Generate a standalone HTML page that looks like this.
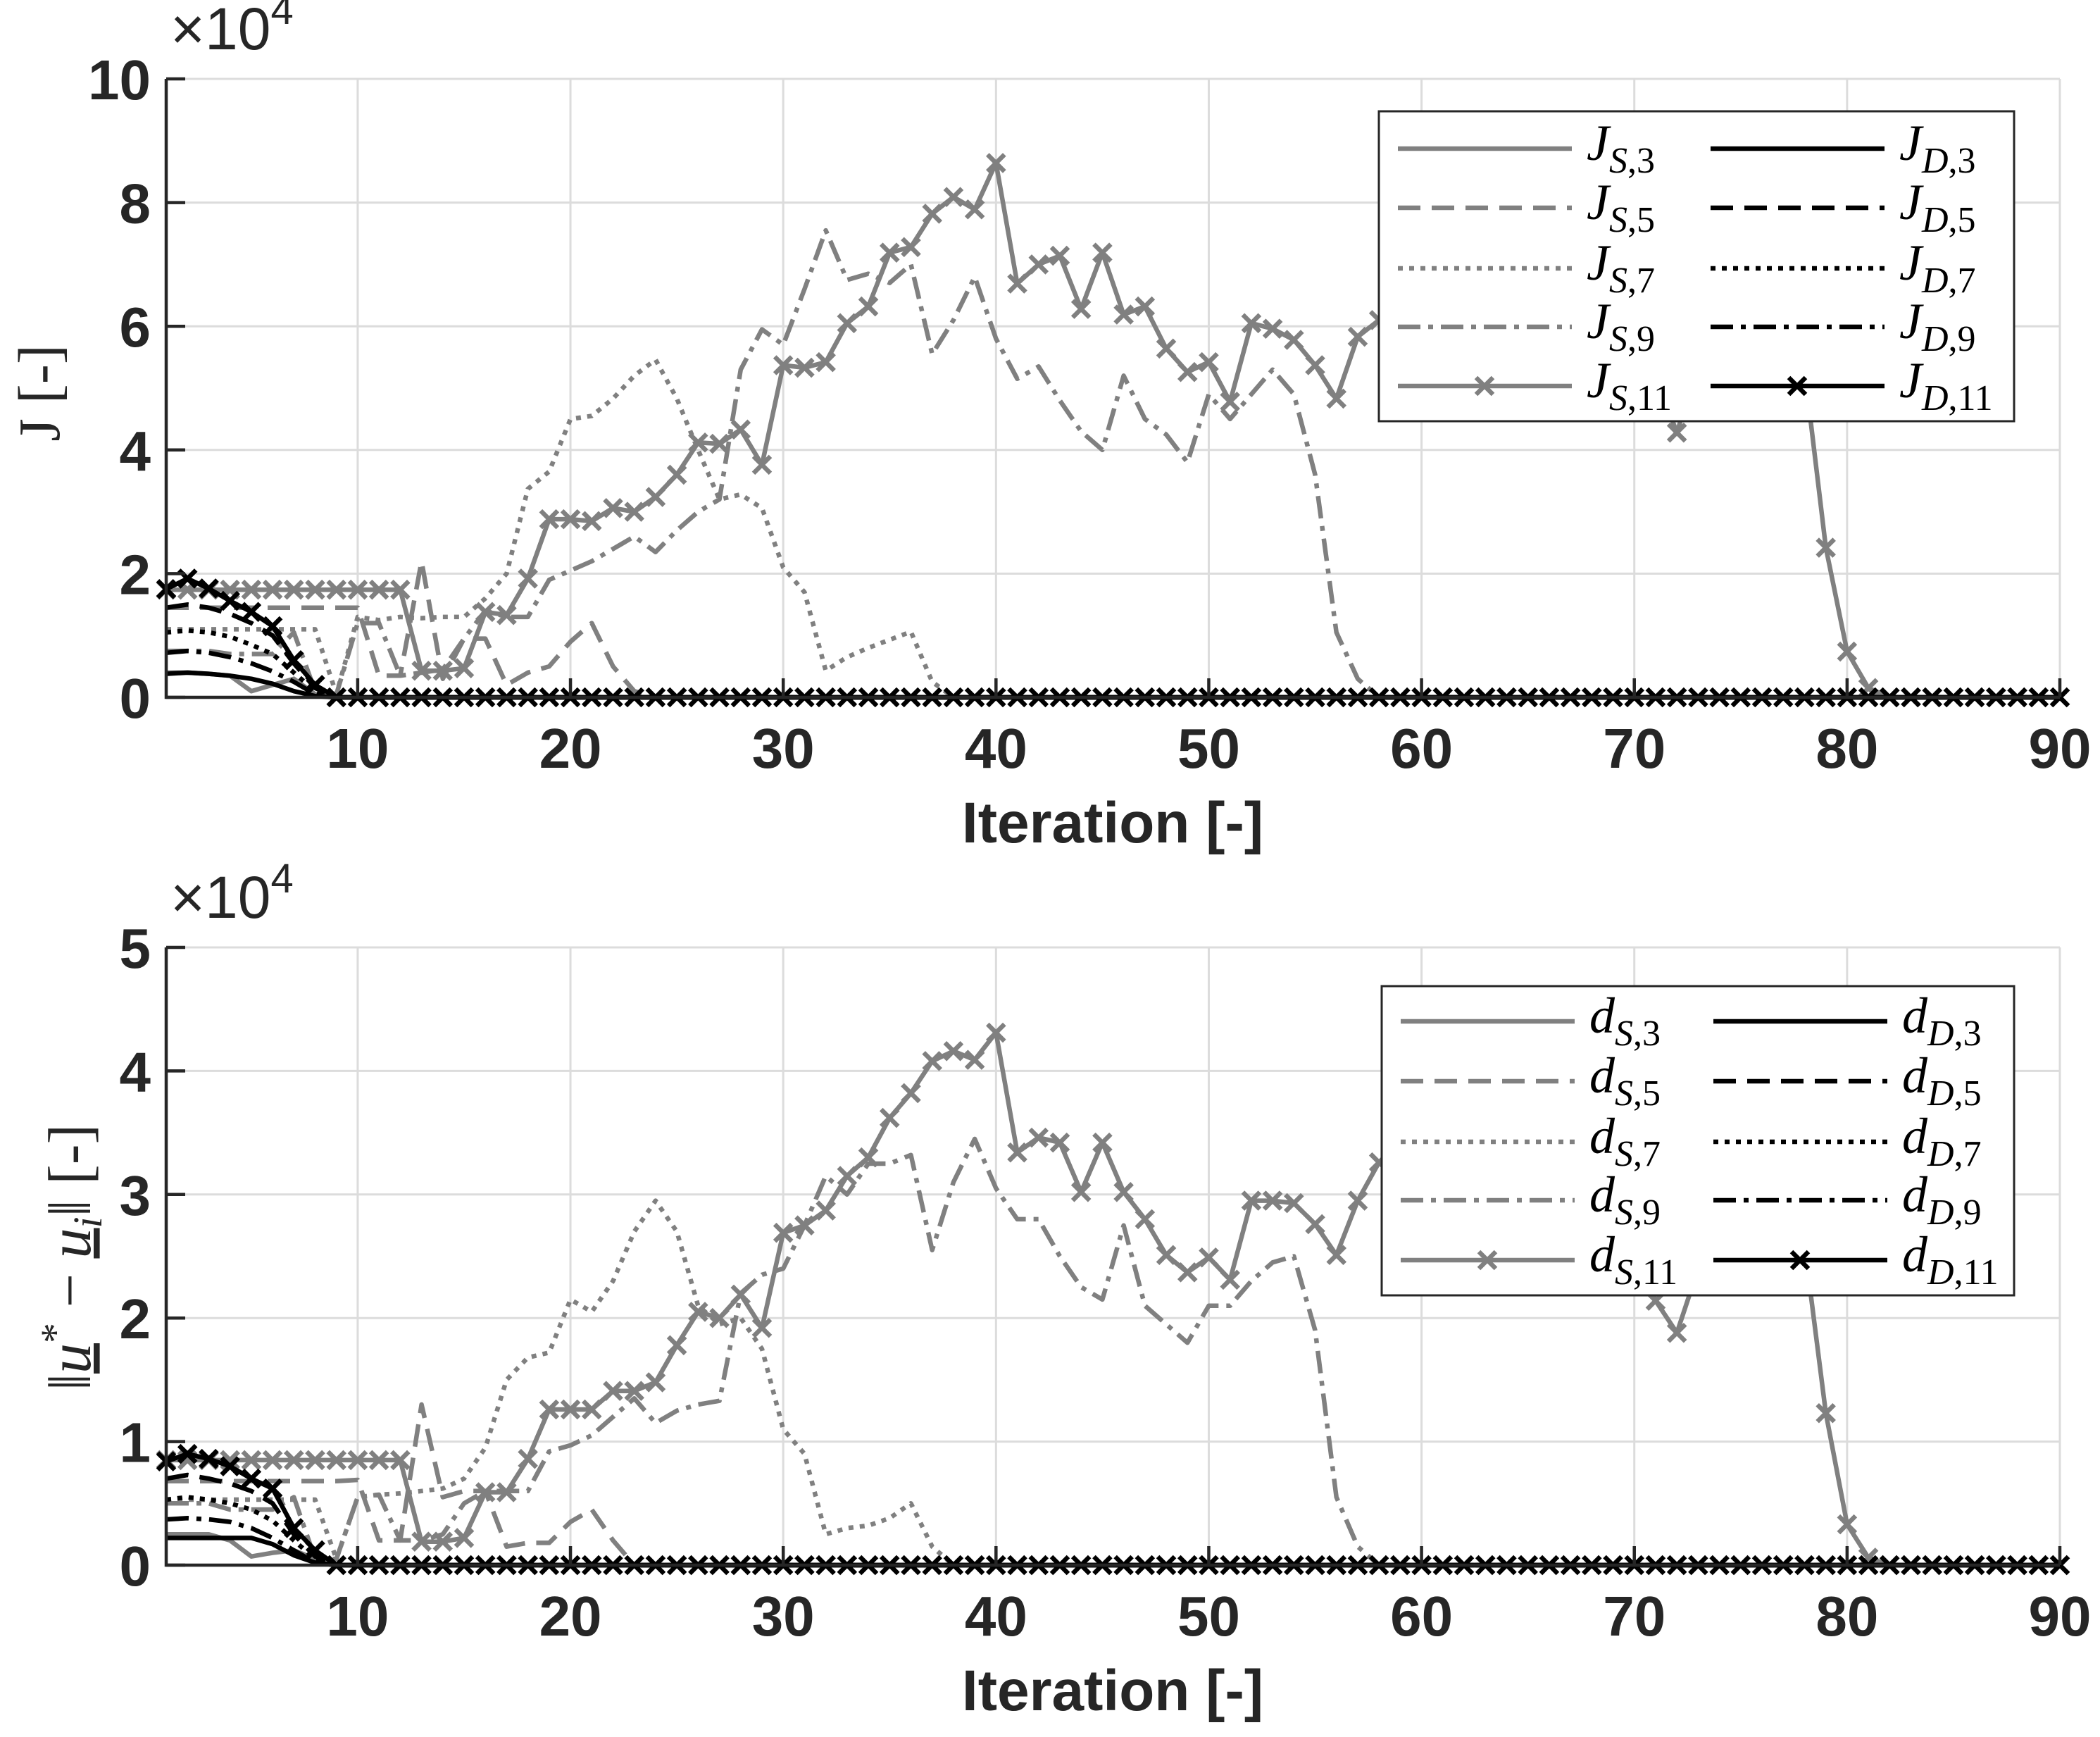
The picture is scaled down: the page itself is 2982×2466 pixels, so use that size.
<!DOCTYPE html>
<html><head><meta charset="utf-8">
<style>
html,body{margin:0;padding:0;background:#fff;}
svg{display:block;}
.tick{font-family:"Liberation Sans",sans-serif;font-weight:bold;font-size:80px;fill:#262626;}
.xlab{font-family:"Liberation Sans",sans-serif;font-weight:bold;font-size:82px;fill:#262626;}
.leg{font-family:"Liberation Serif",serif;font-style:italic;font-size:72px;fill:#000;}
</style></head>
<body>
<svg id="fig" width="2982" height="2466" viewBox="0 0 2982 2466" xmlns="http://www.w3.org/2000/svg">
<rect x="0" y="0" width="2982" height="2466" fill="#fff"/>
</svg>
<script>
// ---------- data (values in units of 1e4) ----------
const iterationsMax = 90;
const topTicksX = [10,20,30,40,50,60,70,80,90];
const topTicksY = [0,2,4,6,8,10];
const botTicksY = [0,1,2,3,4,5];

const JS3 = [0.4,0.4,0.38,0.35,0.1,0.2,0.3,0.05];
const JS5 = [1.45,1.45,1.45,1.45,1.45,1.45,1.45,1.45,1.45,1.45,0.35,0.35,2.2,0.3,0.95,0.95,0.2,0.4,0.5,0.9,1.2,0.5,0.1];
const JS7 = [1.1,1.1,1.1,1.1,1.1,1.1,1.1,1.1,0.05,1.3,1.25,1.3,1.28,1.3,1.3,1.6,2.0,3.37,3.65,4.5,4.55,4.83,5.2,5.46,4.83,4.0,3.2,3.28,3.06,2.1,1.7,0.43,0.65,0.8,0.93,1.06,0.25];
const JS9 = [0.75,0.75,0.75,0.7,0.7,0.7,1.05,0.1,0.05,1.2,1.2,0.35,0.4,0.45,0.95,1.4,1.3,1.3,1.9,2.05,2.2,2.4,2.6,2.35,2.7,3.0,3.2,5.3,5.95,5.7,6.6,7.55,6.75,6.85,6.7,7.0,5.55,6.1,6.8,5.8,5.15,5.35,4.8,4.3,4.0,5.2,4.5,4.25,3.8,4.9,4.5,4.9,5.3,4.9,3.6,1.05,0.3];
const JS11 = [1.74,1.74,1.74,1.74,1.74,1.74,1.74,1.74,1.74,1.74,1.74,1.74,
  0.43,0.43,0.47,1.38,1.33,1.92,
  2.88,2.88,2.85,3.06,3.0,3.24,3.6,4.12,4.1,4.33,3.76,
  5.37,5.33,5.42,6.05,6.32,7.19,7.28,7.82,8.09,7.89,8.64,
  6.69,7.0,7.14,6.28,7.19,6.19,6.32,5.64,5.26,5.42,4.78,6.05,5.96,5.78,5.37,4.83,5.83,6.1,
  6.3,6.5,6.2,6.8,6.4,6.6,6.1,6.9,6.5,6.3,6.0,5.8,5.2,
  4.28,5.4,6.2,6.5,6.3,6.8,5.3,2.42,0.74,0.15];
const JD3 = [0.38,0.4,0.38,0.35,0.3,0.22,0.1,0.02];
const JD5 = [1.45,1.5,1.45,1.35,1.2,1.0,0.55,0.15];
const JD7 = [1.05,1.08,1.05,0.98,0.85,0.7,0.4,0.1];
const JD9 = [0.72,0.75,0.72,0.65,0.55,0.42,0.25,0.05];
const JD11 = [1.75,1.92,1.76,1.56,1.38,1.15,0.6,0.2];

const DS3 = [0.25,0.25,0.25,0.2,0.07,0.1,0.12,0.05];
const DS5 = [0.68,0.68,0.68,0.68,0.68,0.68,0.68,0.68,0.68,0.69,0.2,0.2,1.3,0.55,0.6,0.6,0.15,0.18,0.18,0.35,0.45,0.2,0.0];
const DS7 = [0.53,0.53,0.53,0.53,0.53,0.53,0.53,0.53,0.05,0.55,0.57,0.58,0.6,0.62,0.7,0.95,1.5,1.68,1.72,2.15,2.05,2.3,2.7,2.95,2.7,2.1,1.95,2.0,1.75,1.1,0.9,0.25,0.3,0.32,0.38,0.5,0.15];
const DS9 = [0.5,0.5,0.5,0.45,0.45,0.45,0.55,0.05,0.05,0.55,0.57,0.2,0.2,0.25,0.5,0.6,0.6,0.6,0.92,0.97,1.05,1.2,1.35,1.15,1.25,1.3,1.33,2.2,2.35,2.4,2.75,3.15,3.0,3.25,3.25,3.32,2.55,3.1,3.45,3.05,2.8,2.8,2.5,2.25,2.15,2.75,2.1,1.95,1.8,2.1,2.1,2.3,2.45,2.5,1.9,0.55,0.15];
const DS11 = [0.85,0.85,0.85,0.85,0.85,0.85,0.85,0.85,0.85,0.85,0.85,0.85,
  0.19,0.19,0.22,0.59,0.59,0.86,
  1.26,1.26,1.26,1.41,1.41,1.48,1.78,2.05,2.0,2.19,1.92,
  2.69,2.75,2.87,3.15,3.3,3.62,3.82,4.08,4.16,4.09,4.31,
  3.34,3.46,3.42,3.02,3.42,3.02,2.8,2.51,2.37,2.49,2.31,2.95,2.95,2.93,2.76,2.51,2.95,3.26,
  3.3,3.2,3.4,3.1,3.3,3.2,3.0,3.4,3.2,3.1,2.9,2.6,
  2.14,1.88,2.4,2.9,3.1,3.0,2.8,2.59,1.23,0.33,0.06];
const DD3 = [0.22,0.22,0.22,0.22,0.22,0.17,0.08,0.02];
const DD5 = [0.7,0.73,0.7,0.66,0.6,0.5,0.25,0.07];
const DD7 = [0.53,0.55,0.53,0.5,0.45,0.36,0.2,0.05];
const DD9 = [0.37,0.38,0.37,0.35,0.3,0.22,0.12,0.02];
const DD11 = [0.84,0.9,0.86,0.8,0.7,0.62,0.3,0.12];

// ---------- rendering ----------
const NS = "http://www.w3.org/2000/svg";
const svg = document.getElementById('fig');
function mk(tag, attrs, parent){
  const e = document.createElementNS(NS, tag);
  for (const k in attrs) e.setAttribute(k, attrs[k]);
  (parent||svg).appendChild(e);
  return e;
}
function padZeros(a){ const r = a.slice(); while (r.length < iterationsMax) r.push(0); return r; }

const X0 = 236, X1 = 2925;
function xs(i){ return X0 + (i-1)*(X1-X0)/(iterationsMax-1); }

const GRAY = '#808080', BLACK = '#000000';
const LW = 6.5;
const STY = {
  solid: 'none',
  dash: '32 16',
  dot: '7 9',
  dashdot: '32 11 7 11'
};

function drawPanel(cfg){
  const {yTop, yBot, yMax, yTicks, panel} = cfg;
  const ys = v => yBot - v*(yBot-yTop)/yMax;
  const g = mk('g', {});
  
  
  topTicksX.forEach(t => {
    const l = mk('line', {x1:xs(t), x2:xs(t), y1:yTop, y2:yBot, stroke:'#dcdcdc', 'stroke-width':3}, g);
    
    
  });
  yTicks.forEach(t => {
    const l = mk('line', {x1:X0, x2:X1, y1:ys(t), y2:ys(t), stroke:'#dcdcdc', 'stroke-width':3}, g);
    
    
  });
  cfg.series.forEach(s => {
    const vals = padZeros(s.data);
    const pts = vals.map((v,k) => xs(k+1).toFixed(1)+','+ys(v).toFixed(1)).join(' ');
    const pl = mk('polyline', {points:pts, fill:'none', stroke:s.color, 'stroke-width':LW,
      'stroke-linejoin':'round', 'stroke-dasharray':STY[s.style]}, g);
    
    
    if (s.marker){
      vals.forEach((v,k) => {
        const cx = xs(k+1), cy = ys(v), r = 12;
        const m = mk('path', {d:`M${cx-r},${cy-r}L${cx+r},${cy+r}M${cx-r},${cy+r}L${cx+r},${cy-r}`,
          stroke:s.color, 'stroke-width':6.5, fill:'none'}, g);
        
        
      });
    }
  });
  const ax = mk('path', {d:`M${X0},${yTop}L${X0},${yBot}L${X1},${yBot}`, stroke:'#262626', 'stroke-width':4.5, fill:'none'}, g);
  
  
  yTicks.forEach(t => {
    mk('line', {x1:X0, x2:X0+27, y1:ys(t), y2:ys(t), stroke:'#262626', 'stroke-width':4.5}, g);
    const tx = mk('text', {x:214, y:ys(t)+29, 'text-anchor':'end', class:'tick'}, g);
    tx.textContent = t;
    
    
  });
  topTicksX.forEach(t => {
    mk('line', {x1:xs(t), x2:xs(t), y1:yBot, y2:yBot-27, stroke:'#262626', 'stroke-width':4.5}, g);
    const tx = mk('text', {x:xs(t), y:yBot+100, 'text-anchor':'middle', class:'tick'}, g);
    tx.textContent = t;
    
    
  });
  const ex = mk('text', {x:242, y:yTop-42, 'font-family':'Liberation Sans, sans-serif', 'font-size':84, fill:'#262626'}, g);
  ex.innerHTML = '×10<tspan dy="-36" font-size="58">4</tspan>';
  
  
  const xl = mk('text', {x:1580, y:yBot+206, 'text-anchor':'middle', class:'xlab'}, g);
  xl.textContent = 'Iteration [-]';
  
  
  const L = cfg.legend;
  const lg = mk('g', {}, g);
  
  
  mk('rect', {x:L.x, y:L.y, width:L.w, height:L.h, fill:'#fff', stroke:'#262626', 'stroke-width':3}, lg);
  cfg.series.forEach((s, k) => {
    const col = k < 5 ? 0 : 1, row = k % 5;
    const yy = L.rows[row];
    const lx = col === 0 ? L.x + 27 : L.x + 471;
    const e = mk('g', {}, lg);
    
    
    mk('line', {x1:lx, x2:lx+247, y1:yy, y2:yy, stroke:s.color, 'stroke-width':LW, 'stroke-dasharray':STY[s.style]}, e);
    if (s.marker){
      const cx = lx+123, r = 12;
      mk('path', {d:`M${cx-r},${yy-r}L${cx+r},${yy+r}M${cx-r},${yy+r}L${cx+r},${yy-r}`, stroke:s.color, 'stroke-width':6.5}, e);
    }
    const t = mk('text', {x:lx+268, y:yy+16, class:'leg'}, e);
    t.innerHTML = s.sym + '<tspan dy="18" font-size="52">' + s.sub1 + '</tspan><tspan font-size="52" font-style="normal">,' + s.sub2 + '</tspan>';
  });
}

function seriesSet(sym, arrS, arrD){
  const nums = ['3','5','7','9','11'], styles = ['solid','dash','dot','dashdot','solid'];
  const out = [];
  arrS.forEach((a,k) => out.push({name:sym+'-s-'+nums[k], data:a, color:GRAY, style:styles[k], marker:k===4, sym:sym, sub1:'S', sub2:nums[k]}));
  arrD.forEach((a,k) => out.push({name:sym+'-d-'+nums[k], data:a, color:BLACK, style:styles[k], marker:k===4, sym:sym, sub1:'D', sub2:nums[k]}));
  return out;
}

drawPanel({panel:'top', yTop:112, yBot:990, yMax:10, yTicks:topTicksY,
  series: seriesSet('J', [JS3,JS5,JS7,JS9,JS11], [JD3,JD5,JD7,JD9,JD11]),
  legend:{x:1958, y:158, w:902, h:440, rows:[211,295,381,464,548]}});
drawPanel({panel:'bottom', yTop:1345, yBot:2222, yMax:5, yTicks:botTicksY,
  series: seriesSet('d', [DS3,DS5,DS7,DS9,DS11], [DD3,DD5,DD7,DD9,DD11]),
  legend:{x:1962, y:1400, w:898, h:439, rows:[1450,1535,1621,1704,1789]}});

const yt1 = mk('text', {x:0, y:0, transform:'translate(84,558) rotate(-90)', 'text-anchor':'middle',
  'font-family':'Liberation Serif, serif', 'font-size':84, fill:'#262626'});
yt1.textContent = 'J [-]';


const yt2 = mk('text', {x:0, y:0, transform:'translate(128,1785) rotate(-90)', 'text-anchor':'middle',
  'font-family':'Liberation Serif, serif', 'font-size':86, fill:'#262626'});
yt2.innerHTML = '‖<tspan font-style="italic" text-decoration="underline">u</tspan><tspan dy="-30" font-size="58">*</tspan><tspan dy="30"> − </tspan><tspan font-style="italic" text-decoration="underline">u</tspan><tspan dy="16" font-size="58" font-style="italic">i</tspan><tspan dy="-16">‖ [-]</tspan>';


</script>
</body></html>
